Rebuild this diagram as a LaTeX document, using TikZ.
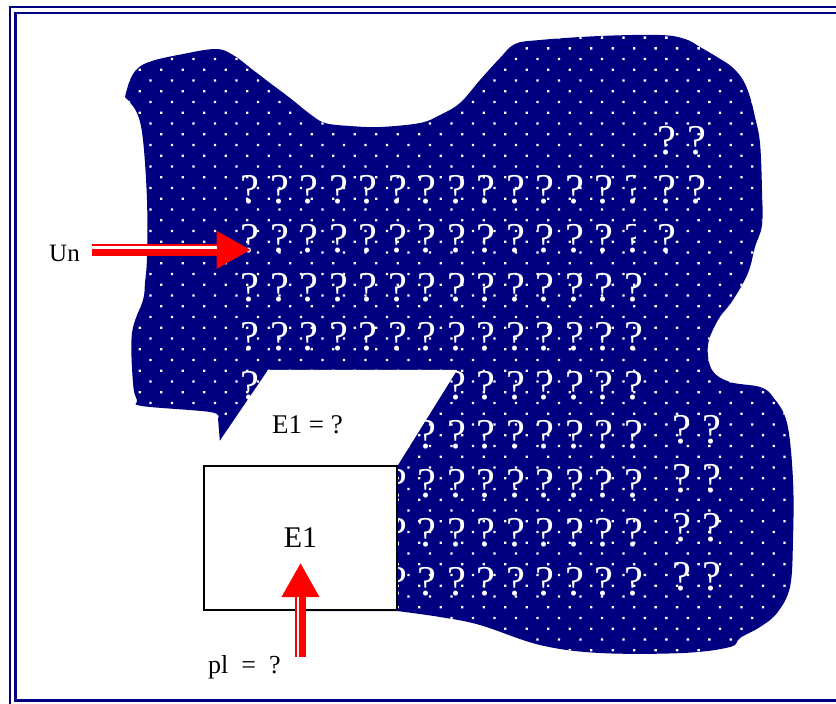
\documentclass[tikz,border=0pt]{standalone}
\usepackage{fontspec}
\setmainfont{Liberation Serif}
\usetikzlibrary{arrows.meta,calc,patterns.meta}
\definecolor{blobcolor}{RGB}{0,0,128}
\definecolor{framecolor}{RGB}{0,0,128}
\definecolor{arrowred}{RGB}{255,0,0}
\tikzset{
    blob/.style={
        fill=blobcolor,
        postaction={pattern={Dots[angle=45,distance=15.2pt,radius=1.6pt]}, pattern color=white}
    },
    qmark/.style={text=white, inner sep=0pt, anchor=base, font=\fontsize{42.5}{50}\selectfont},
    lbltext/.style={inner sep=0pt, anchor=base},
    e1box/.style={
        rectangle,
        draw=black,
        fill=white,
        line width=1.5pt,
        minimum width=193pt,
        minimum height=144pt,
        inner sep=0pt,
        font=\fontsize{30}{36}\selectfont
    },
    redarrow/.style={draw=arrowred, line width=11.7pt, -{Triangle[length=34.5pt,width=35.5pt]}},
    stripe/.style={draw=white, line width=2.3pt}
}

\begin{document}
\begin{tikzpicture}[x=1pt, y=-1pt]
    \clip (0,0) rectangle (836,704);

    % Frame
    \draw[framecolor, line width=2.5pt] (10,7) rectangle (850,720);
    \draw[framecolor, line width=2.5pt] (15.3,12.8) rectangle (845,700.7);

    % Blob
    \fill[blob] (125,97) -- plot[smooth, tension=0.6] coordinates {(125,97) (130,80) (138,68) (152,61) (178,55) (215,49) (233,55) (253,70) (270,83) (290,98) (310,114) (325,123) (350,126) (380,127) (420,123) (440,115) (460,103) (480,80) (500,58) (515,44) (540,40) (600,36) (660,35) (685,39) (700,47) (717,57) (732,67) (743,80) (750,97) (755,117) (760,143) (762,190) (762,225) (755,247) (748,273) (733,300) (718,320) (708,345) (712,370) (730,382) (760,387) (773,397) (787,423) (793,480) (793,540) (790,587) (777,613) (760,627) (740,638) (730,647) (683,653) (600,653) (540,645) (480,625) (440,617) (397,611)}
        -- (300,611) -- (222,470) -- (220,443) -- (218,418)
        -- plot[smooth, tension=0.6] coordinates {(218,418) (210,412) (142,406) (137,400) (133,383) (132,333) (143,300) (145,283) (147,257) (147,200) (143,140) (137,113) (125,97)} -- cycle;

    % Question marks (the ones left visible beside the E1 box)
    \foreach \r/\first in {0/0,1/0,2/0,3/0,5/6,6/5,7/5,8/5}
        \foreach \c in {\first,...,13}
            \node[qmark] (q-\r-\c) at (250+29.5*\c, 203+49*\r) {?};
    \foreach \c in {0,7,8,...,13}
        \node[qmark] (q-4-\c) at (250+29.5*\c, 399) {?};

    \fill[blob] (636,112) rectangle (745,262);
    \foreach \r in {0,1}
        \foreach \c in {0,1}
            \node[qmark] (qr-\r-\c) at (666.7+30*\c, 154+49*\r) {?};
    \node[qmark] (qr-2-0) at (666.7,252) {?};

    \foreach \r in {0,...,3}
        \foreach \c in {0,1}
            \node[qmark] (ql-\r-\c) at (682+30*\c, 443.7+49*\r) {?};

    % E1 box
    \node[e1box] (e1) at (300.5,538) {E1};
    \fill[white] (e1.north west) -- ++(65,-95.5) -- ++(189,0) -- (e1.north east) -- cycle;
    \draw[line width=1.5pt] (e1.north west) -- (e1.north east);
    \node[lbltext, font=\fontsize{27}{32}\selectfont] (e1q) at (307.5,433) {E1 = ?};

    % Arrows
    \node[lbltext, anchor=base west, font=\fontsize{25}{30}\selectfont] (un) at (49,261) {Un};
    \coordinate (untail) at (92,249.85);
    \coordinate (untip) at (251,249.85);
    \draw[redarrow] (untail) -- (untip);
    \draw[stripe] ($(untail)+(0,-2.35)$) -- ($(untip)+(-34,-2.35)$);

    \node[lbltext, anchor=base west, font=\fontsize{26}{31}\selectfont] (pl) at (208,673) {pl\ \ =\ \ ?};
    \coordinate (pltail) at (300.5,657);
    \coordinate (e1tip) at (300.5,562.7);
    \draw[redarrow] (pltail) -- (e1tip);
    \draw[stripe] ($(pltail)+(-2.2,0)$) -- ($(e1tip)+(-2.2,34)$);
\end{tikzpicture}
\end{document}
